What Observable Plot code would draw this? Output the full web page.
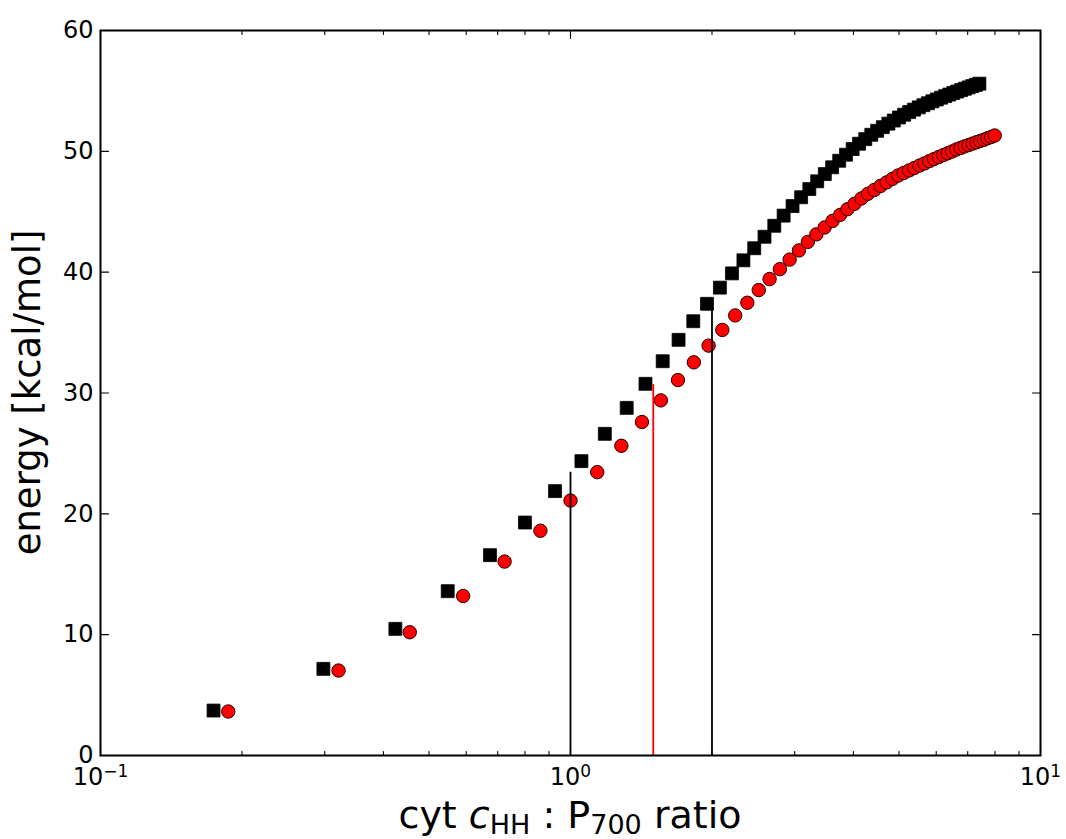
<!DOCTYPE html>
<html><head><meta charset="utf-8">
<script src="https://cdn.jsdelivr.net/npm/d3@7"></script>
<script src="https://cdn.jsdelivr.net/npm/@observablehq/plot@0.6"></script>
<style>html,body{margin:0;padding:0;background:#fff}svg{display:block}</style>
</head><body>
<script>
const blackX = [0.174, 0.298, 0.424, 0.548, 0.674, 0.800, 0.927, 1.055, 1.183, 1.317, 1.444, 1.571, 1.698, 1.825, 1.952, 2.079, 2.206, 2.333, 2.460, 2.587, 2.714, 2.841, 2.968, 3.095, 3.222, 3.349, 3.476, 3.603, 3.730, 3.857, 3.984, 4.111, 4.238, 4.365, 4.492, 4.619, 4.746, 4.873, 5.000, 5.127, 5.254, 5.381, 5.508, 5.635, 5.762, 5.889, 6.016, 6.143, 6.270, 6.397, 6.524, 6.651, 6.778, 6.905, 7.032, 7.159, 7.286, 7.413];
const blackY = [3.72, 7.17, 10.48, 13.6, 16.58, 19.28, 21.88, 24.36, 26.62, 28.77, 30.76, 32.63, 34.4, 35.94, 37.38, 38.72, 39.9, 40.98, 41.98, 42.93, 43.84, 44.68, 45.47, 46.2, 46.88, 47.52, 48.12, 48.68, 49.22, 49.72, 50.19, 50.63, 51.01, 51.37, 51.7, 52.0, 52.29, 52.55, 52.8, 53.03, 53.25, 53.45, 53.64, 53.82, 53.98, 54.14, 54.29, 54.44, 54.57, 54.7, 54.83, 54.95, 55.07, 55.18, 55.29, 55.4, 55.5, 55.6];
const redX = [0.187, 0.321, 0.455, 0.591, 0.724, 0.863, 1.0, 1.14, 1.283, 1.419, 1.557, 1.693, 1.830, 1.967, 2.104, 2.241, 2.378, 2.515, 2.652, 2.789, 2.926, 3.063, 3.199, 3.336, 3.473, 3.610, 3.747, 3.884, 4.021, 4.158, 4.295, 4.432, 4.569, 4.705, 4.842, 4.979, 5.116, 5.253, 5.390, 5.527, 5.664, 5.800, 5.937, 6.074, 6.211, 6.348, 6.485, 6.622, 6.759, 6.896, 7.033, 7.170, 7.306, 7.443, 7.580, 7.717, 7.854, 7.991];
const redY = [3.64, 7.03, 10.2, 13.2, 16.05, 18.6, 21.1, 23.45, 25.63, 27.6, 29.39, 31.07, 32.54, 33.92, 35.22, 36.42, 37.47, 38.52, 39.43, 40.25, 41.04, 41.8, 42.51, 43.13, 43.7, 44.24, 44.74, 45.21, 45.66, 46.1, 46.49, 46.81, 47.14, 47.43, 47.72, 48.0, 48.21, 48.42, 48.62, 48.82, 49.0, 49.19, 49.36, 49.53, 49.69, 49.84, 49.99, 50.15, 50.28, 50.41, 50.52, 50.64, 50.75, 50.86, 50.96, 51.08, 51.19, 51.31];
const blackLineX = [1, 2];
const blackLineTop = [23.45, 36.9];
const redLineX = [1.5];
const redLineTop = [30.7];
const yTicks = [0, 10, 20, 30, 40, 50, 60];
const xMajorTicks = [0.1, 1, 10];
const xTickExponents = ["\u22121", "0", "1"];
const xMinorTicks = [0.2, 0.3, 0.4, 0.5, 0.6, 0.7, 0.8, 0.9, 2, 3, 4, 5, 6, 7, 8, 9];
const xLabelParts = ["cyt ", "c", "HH", " : P", "700", " ratio"];
const yLabel = "energy [kcal/mol]";

const W = 1066, H = 839, mL = 100, mR = 26, mT = 30, mB = 84;
const tickShape = {draw(ctx, l) { ctx.moveTo(0, 0); ctx.lineTo(0, -l); }};
const tickOpts = {shape: tickShape, anchor: "start", stroke: "black", strokeWidth: 1.1};
const bIdx = blackX.map((_, i) => i);
const rIdx = redX.map((_, i) => i);

const svg = Plot.plot({
  width: W, height: H,
  marginLeft: mL, marginRight: mR, marginTop: mT, marginBottom: mB,
  style: {fontFamily: "DejaVu Sans", background: "white", color: "black"},
  x: {type: "log", domain: [0.1, 10]},
  y: {domain: [0, 60]},
  marks: [
    Plot.dot(bIdx, {x: i => blackX[i], y: i => blackY[i], symbol: "square", r: 7.3, fill: "black", stroke: "black", strokeWidth: 0.8}),
    Plot.dot(rIdx, {x: i => redX[i], y: i => redY[i], symbol: "circle", r: 6.7, fill: "#ff0000", stroke: "#220000", strokeWidth: 1}),
    Plot.ruleX(blackLineX, {x: d => d, y1: () => 0, y2: (d, i) => blackLineTop[i], stroke: "black", strokeWidth: 1.8}),
    Plot.ruleX(redLineX, {x: d => d, y1: () => 0, y2: (d, i) => redLineTop[i], stroke: "#ff0000", strokeWidth: 1.8}),
    Plot.vector(xMajorTicks, {x: d => d, frameAnchor: "bottom", rotate: 0, length: 8, ...tickOpts}),
    Plot.vector(xMajorTicks, {x: d => d, frameAnchor: "top", rotate: 180, length: 8, ...tickOpts}),
    Plot.vector(xMinorTicks, {x: d => d, frameAnchor: "bottom", rotate: 0, length: 4, ...tickOpts}),
    Plot.vector(xMinorTicks, {x: d => d, frameAnchor: "top", rotate: 180, length: 4, ...tickOpts}),
    Plot.vector(yTicks, {y: d => d, frameAnchor: "left", rotate: 90, length: 8, ...tickOpts}),
    Plot.vector(yTicks, {y: d => d, frameAnchor: "right", rotate: -90, length: 8, ...tickOpts}),
    Plot.frame({stroke: "black", strokeWidth: 2}),
    Plot.axisX({ticks: xMajorTicks, tickSize: 0, tickPadding: 12, fontSize: 24, label: null,
      tickFormat: d => "10^" + xTickExponents[xMajorTicks.indexOf(d)]}),
    Plot.axisY({ticks: yTicks, tickSize: 0, tickPadding: 7, fontSize: 24, label: null})
  ]
});
document.body.appendChild(svg);

const s = d3.select(svg);
s.selectAll('g[aria-label="x-axis tick label"] text').each(function() {
  const [base, exp] = this.textContent.split("^");
  this.textContent = base;
  d3.select(this).append("tspan").attr("dy", "-0.42em").attr("font-size", "17px").text(exp);
});

const xl = s.append("text")
  .attr("x", (mL + W - mR) / 2).attr("y", 828)
  .attr("text-anchor", "middle").attr("font-size", 38).attr("font-family", "DejaVu Sans").attr("fill", "black");
xl.append("tspan").text(xLabelParts[0]);
xl.append("tspan").attr("font-style", "italic").text(xLabelParts[1]);
xl.append("tspan").attr("font-size", 27).attr("dy", 6).text(xLabelParts[2]);
xl.append("tspan").attr("dy", -6).text(xLabelParts[3]);
xl.append("tspan").attr("font-size", 27).attr("dy", 6).text(xLabelParts[4]);
xl.append("tspan").attr("dy", -6).text(xLabelParts[5]);

s.append("text")
  .attr("transform", `translate(40,${(mT + H - mB) / 2}) rotate(-90)`)
  .attr("text-anchor", "middle").attr("font-size", 37).attr("font-family", "DejaVu Sans").attr("fill", "black")
  .text(yLabel);
</script>
</body></html>
